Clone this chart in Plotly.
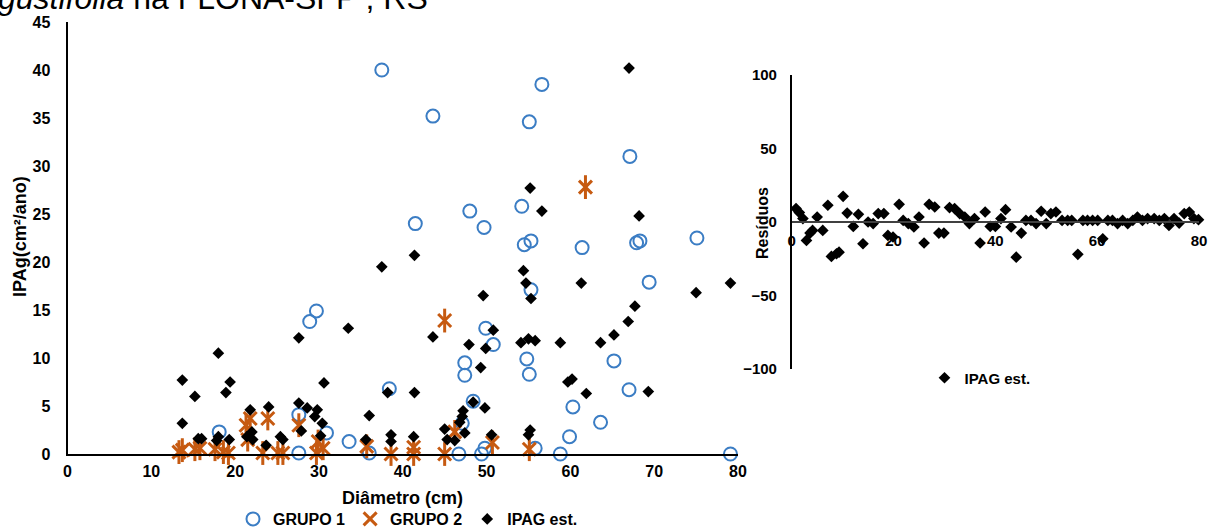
import plotly.graph_objects as go

# ---------------- data ----------------
g1_x = [18.1, 27.6, 27.6, 28.9, 29.7, 30.9, 33.6, 36.0, 37.5, 38.4, 41.5, 43.6, 46.7, 47.1,
        47.4, 47.4, 48.0, 48.4, 49.4, 49.8, 49.7, 49.9, 50.8, 54.2, 54.5, 55.3, 55.1, 56.6,
        55.3, 54.8, 55.1, 55.8, 58.8, 59.9, 60.3, 61.4, 63.6, 65.2, 67.0, 67.1, 67.9, 68.3,
        69.4, 75.1, 79.1]
g1_y = [2.3, 4.1, 0.1, 13.8, 14.9, 2.2, 1.3, 0.1, 40.0, 6.8, 24.0, 35.2, 0.0, 3.2,
        9.5, 8.2, 25.3, 5.5, 0.0, 0.6, 23.6, 13.1, 11.4, 25.8, 21.8, 22.2, 34.6, 38.5,
        17.1, 9.9, 8.3, 0.6, 0.0, 1.8, 4.9, 21.5, 3.3, 9.7, 6.7, 31.0, 22.0, 22.2,
        17.9, 22.5, 0.0]

g2_x = [13.3, 13.7, 15.2, 15.8, 17.6, 18.6, 19.2, 21.3, 21.8, 21.5, 23.9, 23.3, 25.1, 25.7,
        27.6, 29.9, 30.5, 29.7, 35.7, 38.6, 41.3, 41.3, 45.0, 45.0, 46.2, 50.7, 55.1, 61.8]
g2_y = [0.2, 0.4, 0.5, 0.6, 0.5, 0.2, 0.1, 3.0, 3.7, 1.5, 3.7, 0.1, 0.1, 0.1,
        3.0, 1.3, 0.6, 0.1, 0.8, 0.0, 0.7, 0.0, 0.0, 13.9, 2.3, 1.2, 0.5, 27.8]

est_x = [13.7, 13.7, 15.2, 15.6, 16.0, 17.8, 18.0, 18.0, 18.9, 19.4, 19.3, 21.4, 21.8, 22.0,
         22.1, 23.7, 24.0, 25.4, 25.7, 27.6, 27.6, 27.9, 28.6, 29.8, 29.5, 30.4, 30.2, 30.6,
         33.5, 35.6, 36.0, 37.5, 38.2, 38.6, 38.6, 41.4, 41.4, 41.3, 43.6, 45.0, 45.3, 46.2,
         46.8, 47.1, 47.2, 47.4, 47.9, 48.4, 49.3, 49.6, 49.8, 49.9, 50.6, 50.8, 54.1, 54.4,
         54.7, 55.0, 55.2, 55.3, 55.8, 55.0, 55.2, 56.6, 58.8, 59.7, 60.2, 61.3, 61.9, 63.6,
         65.2, 66.9, 67.0, 67.7, 68.2, 69.3, 75.0, 79.1]
est_y = [7.7, 3.2, 6.0, 1.6, 1.6, 1.4, 1.8, 10.5, 6.4, 7.5, 1.5, 1.8, 4.6, 2.3,
         1.5, 0.9, 4.9, 1.8, 1.5, 12.1, 5.3, 2.4, 4.8, 4.6, 3.9, 3.2, 1.9, 7.4,
         13.1, 1.5, 4.0, 19.5, 6.4, 2.0, 1.3, 20.7, 6.4, 1.8, 12.2, 2.6, 1.5, 1.4,
         3.3, 3.9, 4.5, 2.2, 11.4, 5.4, 9.0, 16.5, 4.8, 11.0, 2.0, 12.9, 11.6, 19.1,
         17.8, 12.0, 27.7, 16.2, 11.8, 2.0, 2.5, 25.3, 11.6, 7.5, 7.8, 17.8, 6.3, 11.6,
         12.4, 13.8, 40.2, 15.4, 24.8, 6.5, 16.8, 17.8]

res_x = [0.85, 1.5, 2.2, 2.9, 3.6, 4.1, 5.0, 6.1, 7.1, 7.8, 8.8, 9.3, 10.1, 10.9, 12.1, 13.1,
         14.0, 15.0, 16.0, 17.0, 18.1, 18.9, 19.9, 21.1, 21.9, 22.9, 24.0, 25.0, 26.0, 27.0,
         28.1, 28.9, 29.9, 31.0, 32.0, 33.0, 34.0, 34.9, 35.9, 37.0, 38.0, 39.0, 40.0, 41.1,
         42.0, 43.1, 44.1, 45.1, 46.0, 47.0, 48.0, 49.0, 50.0, 50.9, 51.9, 53.1, 54.2, 55.0,
         56.2, 57.2, 58.1, 59.1, 60.1, 61.1, 62.1, 63.0, 64.0, 65.0, 66.0, 67.0, 67.9, 68.9,
         69.9, 71.2, 72.2, 73.2, 74.1, 75.1, 76.1, 77.1, 78.1, 79.0, 79.9]
res_y = [9.1, 6.4, 2.3, -12.5, -7.5, -5.7, 3.4, -5.7, 11.4, -23.4, -21.6, -20.5, 17.5, 6.1,
         -3.0, 5.2, -14.8, 0.0, -1.1, 5.7, 5.7, -9.1, -10.2, 12.0, 1.1, -1.1, -3.4, 3.4,
         -14.3, 12.0, 10.2, -7.5, -7.5, 9.8, 9.1, 5.7, 3.4, -1.1, 2.3, -14.3, 6.8, -3.0,
         -3.0, 2.3, 8.4, -3.4, -23.9, -7.5, 1.1, 1.1, -1.1, 7.3, -1.1, 5.7, 6.8, 1.1, 1.1,
         1.1, -22.0, 1.1, 1.1, 1.1, 1.1, -11.4, 1.1, 1.1, -1.1, 1.1, -1.1, 1.1, 3.4, 1.1,
         2.3, 2.3, 1.1, 2.3, -2.3, 2.3, -0.7, 5.7, 6.8, 2.3, 1.6]

main_xticks = [0, 10, 20, 30, 40, 50, 60, 70, 80]
main_yticks = [0, 5, 10, 15, 20, 25, 30, 35, 40, 45]
res_xticks = [0, 20, 40, 60, 80]
res_yticks = [-100, -50, 0, 50, 100]

# ---------------- style ----------------
FONT = "Arial, Liberation Sans, sans-serif"
BLUE = "#3B7DC4"
ORANGE = "#C65A11"
W, H = 1208, 530

def px_x(p):
    return p / W

def px_y(p):
    return 1 - p / H

fig = go.Figure()

fig.add_trace(go.Scatter(x=g1_x, y=g1_y, mode="markers", name="GRUPO 1",
                         marker=dict(symbol="circle-open", size=13, color=BLUE,
                                     line=dict(width=2, color=BLUE)),
                         cliponaxis=False, legend="legend", legendgroup="g1"))
fig.add_trace(go.Scatter(x=g2_x, y=g2_y, mode="markers", name="GRUPO 2",
                         marker=dict(symbol="x-thin-open", size=13, color=ORANGE,
                                     line=dict(width=3, color=ORANGE)),
                         cliponaxis=False, legend="legend", legendgroup="g2"))
fig.add_trace(go.Scatter(x=g2_x, y=g2_y, mode="markers", name="GRUPO 2",
                         marker=dict(symbol="line-ns-open", size=17, color=ORANGE,
                                     line=dict(width=3, color=ORANGE)),
                         cliponaxis=False, showlegend=False, legendgroup="g2"))
fig.add_trace(go.Scatter(x=est_x, y=est_y, mode="markers", name="IPAG est.",
                         marker=dict(symbol="diamond", size=9, color="black"),
                         cliponaxis=False, legend="legend", legendgroup="e"))

fig.add_trace(go.Scatter(x=res_x, y=res_y, mode="markers", name="IPAG est.",
                         marker=dict(symbol="diamond", size=9, color="black"),
                         xaxis="x2", yaxis="y2", cliponaxis=False, legend="legend2"))

tickfont = dict(family=FONT, size=16, color="black", weight="bold")
rtickfont = dict(family=FONT, size=15, color="black", weight="bold")

main_x_dom = [px_x(67.5), px_x(738)]
main_y_dom = [px_y(454), px_y(22)]
res_x_dom = [px_x(791.7), px_x(1199)]
res_y_dom = [px_y(369), px_y(75)]

fig.update_layout(
    width=W, height=H,
    margin=dict(l=0, r=0, t=0, b=0, autoexpand=False),
    paper_bgcolor="white", plot_bgcolor="white",
    showlegend=True,
    xaxis=dict(domain=main_x_dom, range=[0, 80], tickvals=main_xticks,
               showgrid=False, zeroline=False, showline=True, linecolor="black",
               linewidth=2, ticks="", tickfont=tickfont, ticklabelstandoff=2,
               anchor="y", automargin=False, ticklabeloverflow="allow"),
    yaxis=dict(domain=main_y_dom, range=[0, 45], tickvals=main_yticks,
               showgrid=False, zeroline=False, showline=True, linecolor="black",
               linewidth=2, ticks="", tickfont=tickfont, ticklabelstandoff=12,
               anchor="x", automargin=False, ticklabeloverflow="allow"),
    xaxis2=dict(domain=res_x_dom, range=[0, 80], tickvals=res_xticks,
                showgrid=False, zeroline=False, showline=True, linecolor="#404040",
                linewidth=1.5, ticks="", tickfont=rtickfont, ticklabelstandoff=5,
                anchor="free", position=px_y(222), automargin=False,
                ticklabeloverflow="allow"),
    yaxis2=dict(domain=res_y_dom, range=[-100, 100], tickvals=res_yticks,
                showgrid=False, zeroline=False, showline=True, linecolor="black",
                linewidth=1.5, ticks="", tickfont=rtickfont, ticklabelstandoff=10,
                anchor="x2", automargin=False, ticklabeloverflow="allow"),
    legend=dict(orientation="h", x=px_x(408), xanchor="center",
                y=px_y(519), yanchor="middle",
                font=dict(family=FONT, size=16, color="black", weight="bold"),
                itemwidth=30, tracegroupgap=0, bgcolor="rgba(0,0,0,0)"),
    legend2=dict(orientation="h", x=px_x(980), xanchor="center",
                 y=px_y(378), yanchor="middle",
                 font=dict(family=FONT, size=15, color="black", weight="bold"),
                 itemwidth=30, bgcolor="rgba(0,0,0,0)"),
    annotations=[
        dict(text="<i>gustifolia</i> na FLONA-SFP , RS", x=px_x(-4), y=px_y(-2),
             xref="paper", yref="paper", xanchor="left", yanchor="middle",
             showarrow=False, font=dict(family=FONT, size=32, color="black")),
        dict(text="<b>Diâmetro (cm)</b>", x=px_x(402), y=px_y(498),
             xref="paper", yref="paper", xanchor="center", yanchor="middle",
             showarrow=False, font=dict(family=FONT, size=18, color="black")),
        dict(text="<b>IPAg(cm²/ano)</b>", x=px_x(20), y=px_y(237),
             xref="paper", yref="paper", xanchor="center", yanchor="middle",
             textangle=-90, showarrow=False,
             font=dict(family=FONT, size=18, color="black")),
        dict(text="<b>Resíduos</b>", x=px_x(762), y=px_y(223),
             xref="paper", yref="paper", xanchor="center", yanchor="middle",
             textangle=-90, showarrow=False,
             font=dict(family=FONT, size=16, color="black")),
    ],
)

fig.write_html("out.html")
